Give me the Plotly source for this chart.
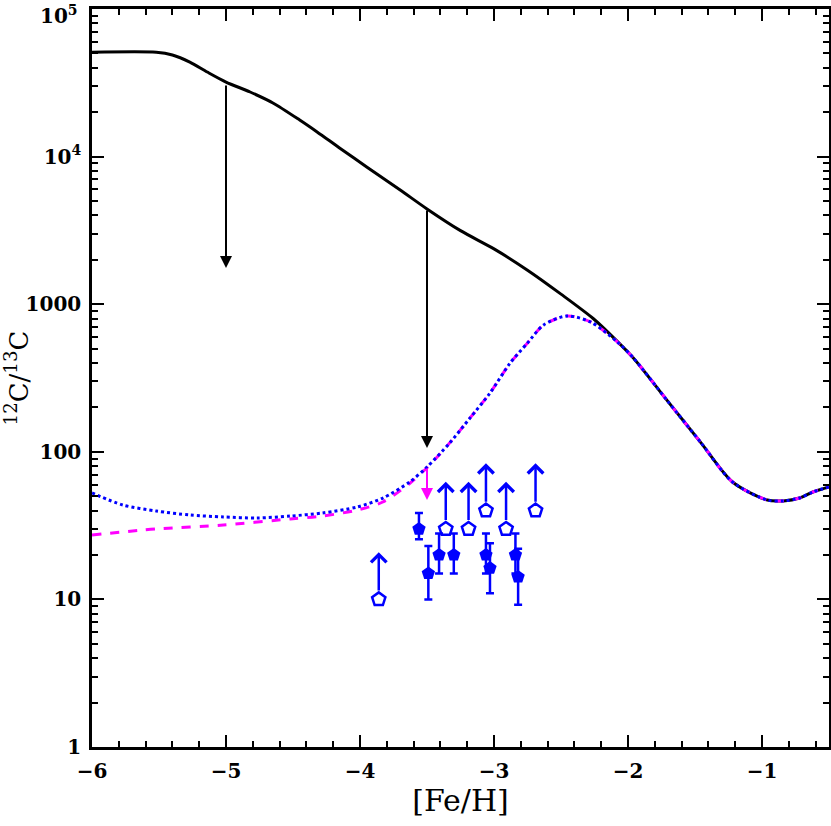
import numpy as np
import plotly.graph_objects as go

# ---------------- data ----------------
black_x = [-6.0, -5.52, -5.40, -5.27, -5.14, -5.0, -4.82, -4.65, -4.45, -4.32, -4.15, -3.95,
           -3.70, -3.5, -3.25, -3.0, -2.75, -2.5, -2.26, -2.08, -1.96, -1.71, -1.455, -1.22,
           -0.96, -0.84, -0.72, -0.62, -0.5]
black_y = [50900, 50900, 48800, 43700, 37400, 32000, 27400, 23100, 17700, 14700, 11400, 8510,
           5940, 4420, 3150, 2370, 1700, 1170, 800, 560, 432, 224, 115, 62.4,
           47.1, 46.5, 48.6, 53.4, 57.8]

blue_x = [-6.0, -5.77, -5.52, -5.27, -5.02, -4.77, -4.52, -4.28, -4.02, -3.83, -3.63, -3.5,
          -3.33, -3.18, -3.03, -2.88, -2.75, -2.63, -2.455, -2.28, -2.08, -1.96, -1.71,
          -1.455, -1.22, -0.96, -0.84, -0.72, -0.62, -0.5]
blue_y = [52.6, 43.6, 39.7, 37.3, 36.2, 35.6, 36.7, 38.5, 42.3, 48.6, 62.4, 78.9,
          115, 169, 250, 399, 546, 723, 832, 758, 555, 432, 224,
          115, 62.4, 47.1, 46.5, 48.6, 53.4, 57.8]

mag_x = [-6.0, -5.52, -5.02, -4.52, -4.28, -4.02, -3.83, -3.63, -3.5,
         -3.33, -3.18, -3.03, -2.88, -2.75, -2.63, -2.455, -2.28, -2.08, -1.96, -1.71,
         -1.455, -1.22, -0.96, -0.84, -0.72, -0.62, -0.5]
mag_y = [27.3, 30.0, 31.9, 35.1, 36.7, 40.3, 45.7, 61.0, 78.0,
         115, 169, 250, 399, 546, 723, 832, 758, 555, 432, 224,
         115, 62.4, 47.1, 46.5, 48.6, 53.4, 57.8]

# lower limits (open pentagons with up arrows)
lim_x = [-3.86, -3.36, -3.19, -3.06, -2.91, -2.69]
lim_y = [10, 30, 30, 40, 30, 40]

# measurements (filled pentagons with error bars)
det_x = [-3.56, -3.49, -3.41, -3.30, -3.06, -3.03, -2.84, -2.82]
det_y = [30, 15, 20, 20, 20, 16.3, 20, 14.2]
det_up = [8.5, 8, 8, 8, 8, 7.7, 8, 7.8]
det_dn = [4.4, 5, 5, 5, 5, 5.3, 5, 5.0]

# model arrows (x, from, to)
black_arrows = [(-5.0, 31000, 1760), (-3.5, 4420, 106)]
mag_arrows = [(-3.5, 78.9, 47.1)]

xtick_vals = [-6, -5, -4, -3, -2, -1]
xtick_text = ["\u22126", "\u22125", "\u22124", "\u22123", "\u22122", "\u22121"]
ytick_vals = [1, 10, 100, 1000, 1e4]
ytick_text = ["1", "10", "100", "1000", "10<sup>4</sup>"]
ytop_text = "10<sup>5</sup>"

BLUE = "#0000ff"
MAG = "#ff00ff"
FONT = "DejaVu Serif"
TICKFONT = dict(family=FONT, size=20, weight="bold")

fig = go.Figure()
fig.add_trace(go.Scatter(x=black_x, y=black_y, mode="lines",
                         line=dict(color="black", width=3, shape="spline", smoothing=0.8),
                         showlegend=False))
fig.add_trace(go.Scatter(x=mag_x, y=mag_y, mode="lines",
                         line=dict(color=MAG, width=3, dash="dash", shape="spline", smoothing=0.8),
                         showlegend=False))
fig.add_trace(go.Scatter(x=blue_x, y=blue_y, mode="lines",
                         line=dict(color=BLUE, width=3, dash="dot", shape="spline", smoothing=0.8),
                         showlegend=False))

fig.add_trace(go.Scatter(x=det_x, y=det_y, mode="markers",
                         marker=dict(symbol="pentagon", size=14, color=BLUE),
                         error_y=dict(type="data", symmetric=False, array=det_up, arrayminus=det_dn,
                                      color=BLUE, thickness=2.5, width=4),
                         showlegend=False))
fig.add_trace(go.Scatter(x=lim_x, y=lim_y, mode="markers",
                         marker=dict(symbol="pentagon-open", size=14, color=BLUE,
                                     line=dict(width=2.5, color=BLUE)),
                         showlegend=False))

annotations = []
for x, y in zip(lim_x, lim_y):
    ly = np.log10(y)
    annotations.append(dict(x=x, y=ly + 0.32, ax=x, ay=ly + 0.05, xref="x", yref="y",
                            axref="x", ayref="y", showarrow=True, text="",
                            arrowhead=4, arrowsize=1.2, arrowwidth=2.5, arrowcolor=BLUE))
for x, y0, y1 in black_arrows:
    annotations.append(dict(x=x, y=np.log10(y1), ax=x, ay=np.log10(y0), xref="x", yref="y",
                            axref="x", ayref="y", showarrow=True, text="",
                            arrowhead=2, arrowsize=1.2, arrowwidth=2, arrowcolor="black"))
for x, y0, y1 in mag_arrows:
    annotations.append(dict(x=x, y=np.log10(y1), ax=x, ay=np.log10(y0), xref="x", yref="y",
                            axref="x", ayref="y", showarrow=True, text="",
                            arrowhead=2, arrowsize=1.2, arrowwidth=2, arrowcolor=MAG))
# top tick label of the y axis (kept inside the page)
annotations.append(dict(x=0, y=1, xref="paper", yref="paper", text=ytop_text,
                        showarrow=False, xanchor="right", yanchor="top",
                        xshift=-12, yshift=9, font=TICKFONT))

fig.update_layout(
    width=831, height=826,
    margin=dict(l=92, r=2, t=9, b=79),
    paper_bgcolor="white", plot_bgcolor="white",
    annotations=annotations,
    font=dict(family=FONT, color="black", size=20),
)
fig.update_xaxes(
    range=[-6, -0.5], showgrid=False, zeroline=False, automargin=False,
    showline=True, linecolor="black", linewidth=2.5, mirror="allticks",
    ticks="inside", ticklen=12, tickwidth=2, tickcolor="black",
    tickvals=xtick_vals, ticktext=xtick_text,
    minor=dict(ticks="inside", ticklen=6, tickwidth=2, dtick=0.2, tick0=-6, tickcolor="black"),
    tickfont=TICKFONT, ticklabelstandoff=4, ticklabeloverflow="allow",
    title=dict(text="[Fe/H]", font=dict(family=FONT, size=30), standoff=6),
)
fig.update_yaxes(
    type="log", range=[-0.0001, 5.0001], showgrid=False, zeroline=False, automargin=False,
    showline=True, linecolor="black", linewidth=2.5, mirror="allticks",
    ticks="inside", ticklen=12, tickwidth=2, tickcolor="black",
    tickvals=ytick_vals, ticktext=ytick_text,
    minor=dict(ticks="inside", ticklen=6, tickwidth=2, dtick="D1", tickcolor="black"),
    tickfont=TICKFONT, ticklabelstandoff=4, ticklabeloverflow="allow",
    title=dict(text="<sup>12</sup>C/<sup>13</sup>C", font=dict(family=FONT, size=26), standoff=8),
)

fig.write_html("out.html", config={"displayModeBar": False},
               post_script="document.body.style.margin='0';document.body.style.overflow='hidden';")
